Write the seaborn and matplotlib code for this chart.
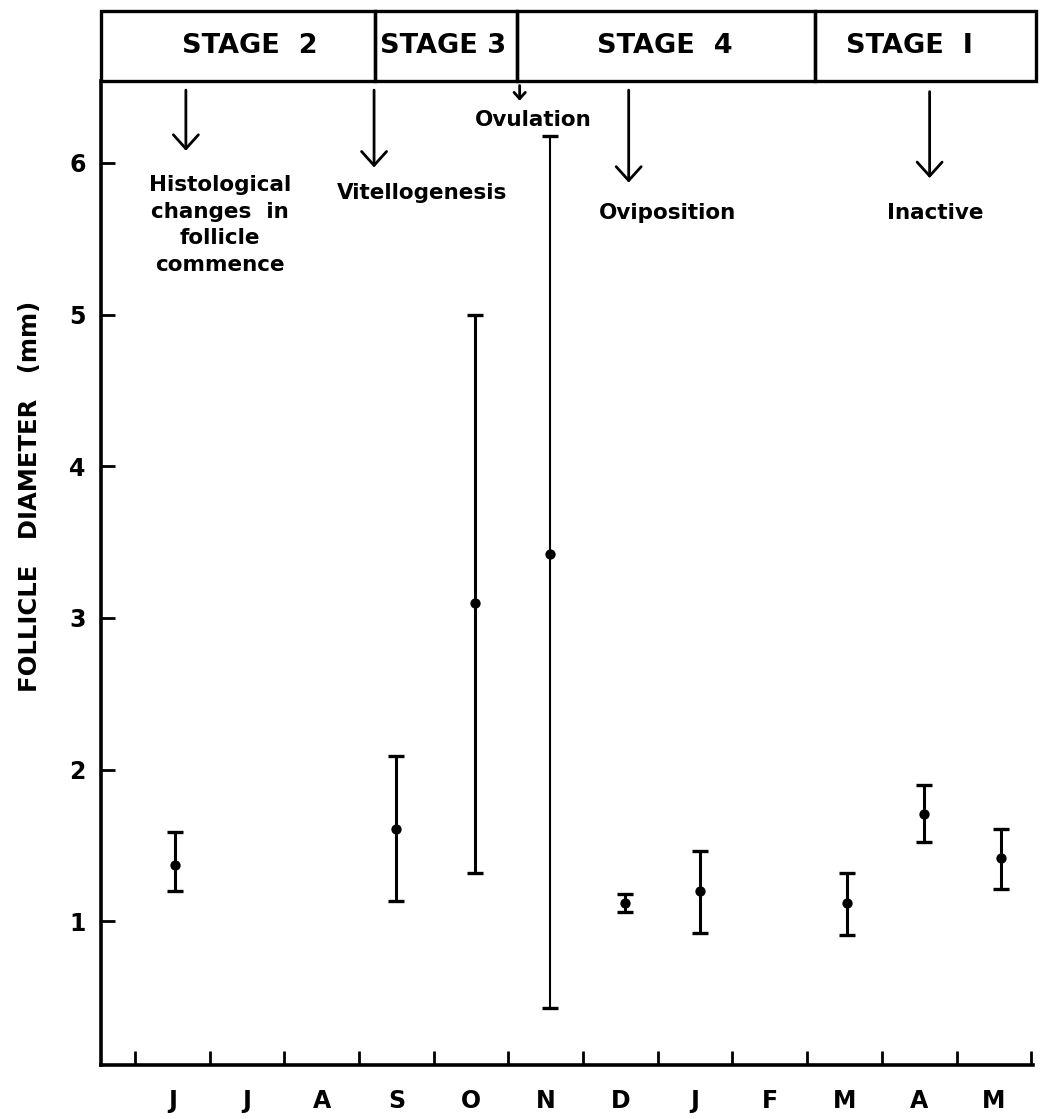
import matplotlib
matplotlib.use("Agg")
import matplotlib.pyplot as plt
import seaborn as sns
import numpy as np
import pandas as pd
from matplotlib.patches import Rectangle

# ---------------- data ----------------
month_labels = ["J", "J", "A", "S", "O", "N", "D", "J", "F", "M", "A", "M"]
sample_pos = [0.03, 3.0, 4.05, 5.05, 6.06, 7.06, 9.04, 10.06, 11.09]
mean_diam = [1.37, 1.61, 3.10, 3.42, 1.12, 1.20, 1.12, 1.71, 1.42]
upper_diam = [1.59, 2.09, 5.00, 6.18, 1.18, 1.46, 1.32, 1.90, 1.61]
lower_diam = [1.20, 1.13, 1.32, 0.43, 1.06, 0.92, 0.91, 1.52, 1.21]
y_ticks = [1, 2, 3, 4, 5, 6]

stage_names = ["STAGE  2", "STAGE 3", "STAGE  4", "STAGE  I"]
stage_bounds = [-0.957, 2.71, 4.62, 8.60, 11.57]

event_labels = ["Histological\nchanges  in\nfollicle\ncommence", "Vitellogenesis",
                "Ovulation", "Oviposition", "Inactive"]
event_arrow_x = [0.18, 2.70, 4.65, 6.11, 10.14]

df = pd.DataFrame({"month": sample_pos, "mean": mean_diam,
                   "upper": upper_diam, "lower": lower_diam})

# ---------------- style ----------------
sns.set_style("ticks")
plt.rcParams["font.family"] = ["DejaVu Sans"]
plt.rcParams["font.weight"] = "bold"
plt.rcParams["text.color"] = "black"
plt.rcParams["xtick.color"] = "black"
plt.rcParams["ytick.color"] = "black"
plt.rcParams["axes.labelcolor"] = "black"

fig = plt.figure(figsize=(10.41, 11.19), dpi=100)
ax = fig.add_axes([0.097, 0.048, 0.895, 0.8796])

# error bars
for i, row in df.iterrows():
    lw = 1.5 if 5 < row["month"] < 5.5 else 2.2
    ax.errorbar(row["month"], row["mean"],
                yerr=[[row["mean"] - row["lower"]], [row["upper"] - row["mean"]]],
                fmt="none", ecolor="black", elinewidth=lw, capsize=5.5,
                capthick=2.4, zorder=2)
sns.scatterplot(data=df, x="month", y="mean", color="black", s=55,
                edgecolor="black", linewidth=0, ax=ax, zorder=3, legend=False)

ax.set_xlim(-0.957, 11.52)
ax.set_ylim(0.05, 6.54)

# axes styling
for side in ["top", "right"]:
    ax.spines[side].set_visible(False)
for side in ["left", "bottom"]:
    ax.spines[side].set_linewidth(2.6)
    ax.spines[side].set_color("black")

ax.set_xticks(np.arange(-0.5, 12.0, 1.0))
ax.set_xticklabels([])
ax.set_xticks(np.arange(0, 12), minor=True)
ax.set_xticklabels(month_labels, minor=True, fontsize=17, fontweight="bold")
ax.tick_params(axis="x", which="major", direction="in", length=10, width=2.0)
ax.tick_params(axis="x", which="minor", length=0, pad=17)

ax.set_yticks(y_ticks)
ax.set_yticklabels([str(v) for v in y_ticks], fontsize=17, fontweight="bold")
ax.tick_params(axis="y", which="major", direction="in", length=10, width=2.0, pad=11)
ax.set_xlabel("")
ax.set_ylabel("")

fig.text(0.029, 0.556, "FOLLICLE   DIAMETER   (mm)", rotation=90, ha="center",
         va="center", fontsize=17.5, fontweight="bold", color="black")

# stage box
y0, y1 = 6.54, 7.0
for k, name in enumerate(stage_names):
    xa, xb = stage_bounds[k], stage_bounds[k + 1]
    ax.add_patch(Rectangle((xa, y0), xb - xa, y1 - y0, fill=False,
                           edgecolor="black", linewidth=2.4, clip_on=False))
stage_text_x = [1.04, 3.62, 6.59, 9.87]
for name, tx in zip(stage_names, stage_text_x):
    ax.text(tx, 6.77, name, ha="center", va="center", fontsize=19.5,
            fontweight="bold", clip_on=False, color="black")

# event arrows and labels
arrow_top = [6.48, 6.48, 6.51, 6.48, 6.47]
arrow_bot = [6.08, 5.97, 6.41, 5.87, 5.90]
text_x = [0.64, 3.34, 4.83, 6.63, 10.21]
text_y = [5.59, 5.80, 6.28, 5.67, 5.67]
for k in range(len(event_labels)):
    ms = 9 if k == 2 else 20
    ax.annotate("", xy=(event_arrow_x[k], arrow_bot[k]),
                xytext=(event_arrow_x[k], arrow_top[k]),
                arrowprops=dict(arrowstyle="->,head_length=0.5,head_width=0.45",
                                lw=2.0, color="black", shrinkA=0, shrinkB=0,
                                mutation_scale=ms))
    ax.text(text_x[k], text_y[k], event_labels[k], ha="center", va="center",
            fontsize=15.5, fontweight="bold", linespacing=1.4, color="black")

fig.savefig("out.png", dpi=100, facecolor="white")
